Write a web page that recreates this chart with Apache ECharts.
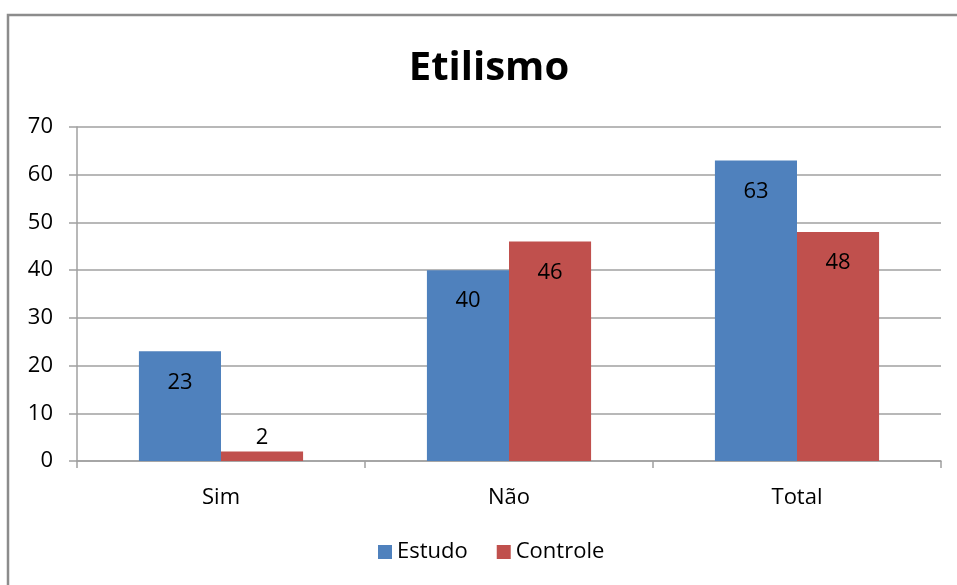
<!DOCTYPE html>
<html>
<head>
<meta charset="utf-8">
<script src="https://cdn.jsdelivr.net/npm/echarts@6/dist/echarts.min.js"></script>
<style>
html,body{margin:0;padding:0;background:#fff;}
#chart{width:957px;height:585px;}
</style>
</head>
<body>
<div id="chart"></div>
<script>
const titleText = 'Etilismo';
const categories = ['Sim', 'Não', 'Total'];
const seriesNames = ['Estudo', 'Controle'];
const estudo = [23, 40, 63];
const controle = [2, 46, 48];
const yTicks = [0, 10, 20, 30, 40, 50, 60, 70];

const FONT = '"Open Sans", sans-serif';
const FS = 22;
const chart = echarts.init(document.getElementById('chart'), null, {renderer: 'canvas'});

function labelFor(values, i) {
  return {
    value: values[i],
    label: values[i] < 8 ? {position: 'top', distance: 3} : {}
  };
}

chart.setOption({
  animation: false,
  backgroundColor: '#ffffff',
  graphic: [{
    type: 'rect',
    shape: {x: 8, y: 15, width: 1100, height: 1000},
    style: {fill: 'none', stroke: '#8c8c8c', lineWidth: 2.5},
    silent: true, z: -1
  }],
  title: {
    text: titleText,
    left: 489,
    textAlign: 'center',
    top: 49,
    padding: 0,
    textStyle: {fontFamily: FONT, fontSize: 40, fontWeight: 'bold', color: '#000'}
  },
  legend: {
    data: seriesNames,
    left: 378,
    top: 541,
    padding: 0,
    icon: 'rect',
    itemWidth: 14,
    itemHeight: 14,
    itemGap: 29,
    textStyle: {fontFamily: FONT, fontSize: FS, color: '#000'}
  },
  grid: {left: 77, right: 16, top: 127, bottom: 124, containLabel: false},
  xAxis: {
    type: 'category',
    data: categories,
    boundaryGap: true,
    axisLine: {show: true, lineStyle: {color: '#a0a0a0', width: 1.5}},
    axisTick: {show: true, length: 7, alignWithLabel: false, lineStyle: {color: '#a0a0a0', width: 1.5}},
    axisLabel: {fontFamily: FONT, fontSize: FS, color: '#000', margin: 26}
  },
  yAxis: {
    type: 'value',
    min: yTicks[0],
    max: yTicks[yTicks.length - 1],
    interval: 10,
    axisLine: {show: true, lineStyle: {color: '#a0a0a0', width: 1.5}},
    axisTick: {show: true, length: 8, lineStyle: {color: '#a0a0a0', width: 1.5}},
    splitLine: {show: true, lineStyle: {color: '#a0a0a0', width: 1.5}},
    axisLabel: {fontFamily: FONT, fontSize: FS, color: '#000', margin: 24}
  },
  series: [
    {
      name: seriesNames[0],
      type: 'bar',
      data: estudo.map((v, i) => labelFor(estudo, i)),
      itemStyle: {color: '#4f81bd'},
      barGap: '0%',
      barCategoryGap: '43%',
      label: {show: true, position: 'insideTop', distance: 20, fontFamily: FONT, fontSize: FS, color: '#000'}
    },
    {
      name: seriesNames[1],
      type: 'bar',
      data: controle.map((v, i) => labelFor(controle, i)),
      itemStyle: {color: '#c0504d'},
      barGap: '0%',
      barCategoryGap: '43%',
      label: {show: true, position: 'insideTop', distance: 20, fontFamily: FONT, fontSize: FS, color: '#000'}
    }
  ]
});
</script>
</body>
</html>
